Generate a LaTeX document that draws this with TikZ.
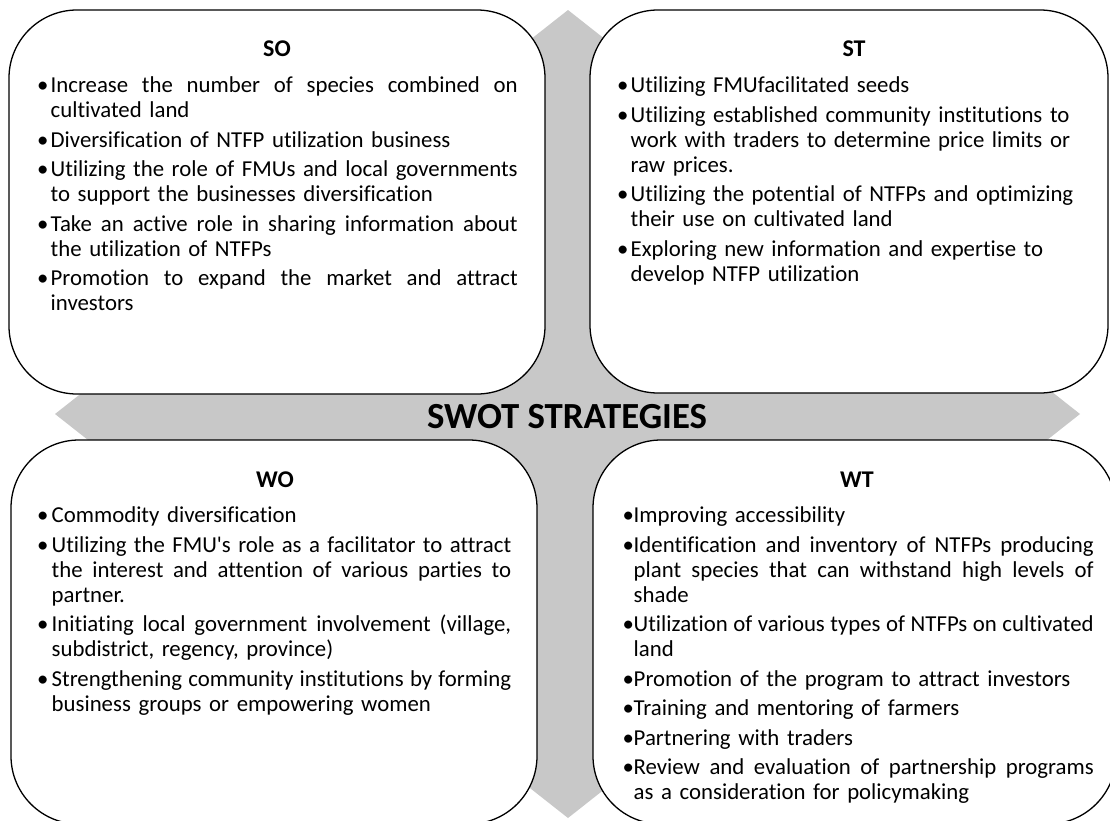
\documentclass[tikz,border=0pt]{standalone}
\usepackage{fontspec}
\setmainfont{Carlito}[Ligatures=NoCommon]
\definecolor{crossgray}{RGB}{200,200,200}

% bullet list lines: hanging width and width of a justified line
\newlength\bhang
\newlength\itemw
\newif\ifitemgap
\newcommand{\lineprop}{\rule{0pt}{20pt}}
\newcommand{\bulletgap}{\ifitemgap\vspace{4.5pt}\fi\itemgaptrue}
% a justified line: every word space stretches evenly to fill \itemw
\newcommand{\fullline}[1]{\hbox to\itemw{\spaceskip=0.226em plus 1fil minus 0.03em\relax #1}}
\newcommand{\bulJ}[1]{\bulletgap\noindent\lineprop\makebox[\bhang][l]{\textbullet}\fullline{#1}\par}
\newcommand{\bulN}[1]{\bulletgap\noindent\lineprop\makebox[\bhang][l]{\textbullet}#1\par}
\newcommand{\conJ}[1]{\noindent\lineprop\hspace*{\bhang}\fullline{#1}\par}
\newcommand{\conN}[1]{\noindent\lineprop\hspace*{\bhang}#1\par}

\tikzset{
  quadbox/.style={draw=black, line width=1.3pt, fill=white, rounded corners=68pt},
  boxtitle/.style={font=\fontsize{24}{25}\selectfont\bfseries, anchor=base, inner sep=0pt},
  boxbody/.style={anchor=north west, inner sep=0pt, text width=500pt,
    font=\fontsize{22.8}{25}\selectfont},
}

\begin{document}
\begin{tikzpicture}[x=1pt, y=-1pt]
  \useasboundingbox (0,0) rectangle (1110,820);
  \clip (0,0) rectangle (1110,820);

  % grey diamond behind the four quadrants
  \fill[crossgray] (568,10) -- (1080,414) -- (568,818) -- (55,414) -- cycle;

  % quadrant boxes
  \path[quadbox] (9,10) rectangle (545,394);
  \path[quadbox] (590,10) rectangle (1108,393);
  \path[quadbox] (11,440) rectangle (537,824);
  \path[quadbox] (593,440) rectangle (1116,824);

  % centre title
  \node[font=\fontsize{36.8}{40}\selectfont\bfseries, anchor=base, inner sep=0pt]
    (title) at (567,428) {SWOT STRATEGIES};

  % box headings
  \node[boxtitle] (soT) at (277,56) {SO};
  \node[boxtitle] (stT) at (854,56) {ST};
  \node[boxtitle] (woT) at (275,487) {WO};
  \node[boxtitle] (wtT) at (857,487) {WT};

  % SO
  \node[boxbody] (so) at (37,72.5) {%
    \itemgapfalse\setlength\bhang{13.5pt}\setlength\itemw{467pt}%
    \bulJ{Increase the number of species combined on}
    \conN{cultivated land}
    \bulN{Diversification of NTFP utilization business}
    \bulJ{Utilizing the role of FMUs and local governments}
    \conN{to support the businesses diversification}
    \bulJ{Take an active role in sharing information about}
    \conN{the utilization of NTFPs}
    \bulJ{Promotion to expand the market and attract}
    \conN{investors}};

  % ST
  \node[boxbody] (st) at (617,72.5) {%
    \itemgapfalse\setlength\bhang{13.5pt}%
    \bulN{Utilizing FMUfacilitated seeds}
    \bulN{Utilizing established community institutions to}
    \conN{work with traders to determine price limits or}
    \conN{raw prices.}
    \bulN{Utilizing the potential of NTFPs and optimizing}
    \conN{their use on cultivated land}
    \bulN{Exploring new information and expertise to}
    \conN{develop NTFP utilization}};

  % WO
  \node[boxbody] (wo) at (37,502.5) {%
    \itemgapfalse\setlength\bhang{14.5pt}\setlength\itemw{459.5pt}%
    \bulN{Commodity diversification}
    \bulJ{Utilizing the FMU\textquotesingle s role as a facilitator to attract}
    \conJ{the interest and attention of various parties to}
    \conN{partner.}
    \bulJ{Initiating local government involvement (village,}
    \conN{subdistrict, regency, province)}
    \bulJ{Strengthening community institutions by forming}
    \conN{business groups or empowering women}};

  % WT
  \node[boxbody] (wt) at (622.5,502.5) {%
    \itemgapfalse\setlength\bhang{11pt}\setlength\itemw{460pt}%
    \bulN{Improving accessibility}
    \bulJ{Identification and inventory of NTFPs producing}
    \conJ{plant species that can withstand high levels of}
    \conN{shade}
    \bulJ{Utilization of various types of NTFPs on cultivated}
    \conN{land}
    \bulN{Promotion of the program to attract investors}
    \bulN{Training and mentoring of farmers}
    \bulN{Partnering with traders}
    \bulJ{Review and evaluation of partnership programs}
    \conN{as a consideration for policymaking}};
\end{tikzpicture}
\end{document}
